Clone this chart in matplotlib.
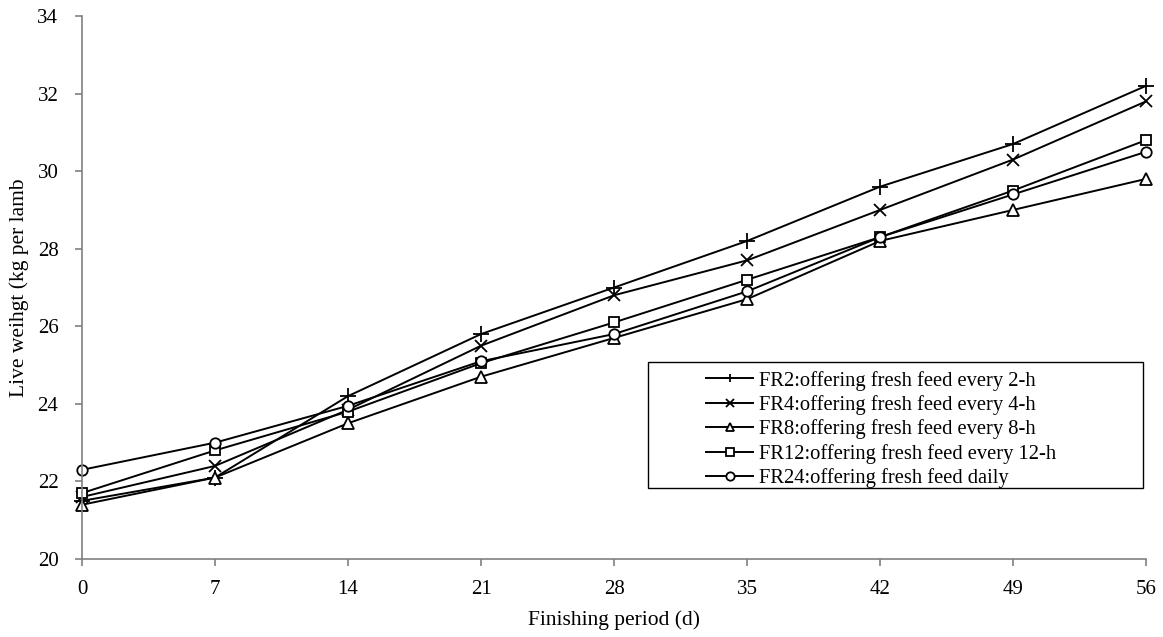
import matplotlib
matplotlib.use("Agg")
import matplotlib.pyplot as plt
from matplotlib.patches import Rectangle

plt.rcParams['font.family'] = ['Liberation Serif', 'DejaVu Serif']

days = [0, 7, 14, 21, 28, 35, 42, 49, 56]
fr2 = [21.5, 22.1, 24.2, 25.8, 27.0, 28.2, 29.6, 30.7, 32.2]
fr4 = [21.6, 22.4, 23.85, 25.5, 26.8, 27.7, 29.0, 30.3, 31.8]
fr8 = [21.4, 22.1, 23.5, 24.7, 25.7, 26.7, 28.2, 29.0, 29.8]
fr12 = [21.7, 22.8, 23.8, 25.05, 26.1, 27.2, 28.3, 29.5, 30.8]
fr24 = [22.3, 23.0, 23.95, 25.1, 25.8, 26.9, 28.3, 29.4, 30.5]

labels = ["FR2:offering fresh feed every 2-h",
          "FR4:offering fresh feed every 4-h",
          "FR8:offering fresh feed every 8-h",
          "FR12:offering fresh feed every 12-h",
          "FR24:offering fresh feed daily"]
markers = ['+', 'x', '^', 's', 'o']
series = [fr2, fr4, fr8, fr12, fr24]
msizes = [11, 9, 8, 7.5, 7.5]

fig = plt.figure(figsize=(11.63, 6.37), dpi=100)
ax = fig.add_axes([0.0705, 0.1224, 0.915, 0.8525])

for s, m, lab, ms in zip(series, markers, labels, msizes):
    ax.plot(days, s, color='black', lw=1.4, marker=m, ms=ms,
            mfc='white', mec='black', mew=1.3, label=lab, clip_on=False)

ax.set_xlim(0, 56)
ax.set_ylim(20, 34)
ax.set_xticks(days)
ax.set_yticks([20, 22, 24, 26, 28, 30, 32, 34])
for sp in ['top', 'right']:
    ax.spines[sp].set_visible(False)
for sp in ['left', 'bottom']:
    ax.spines[sp].set_color('#808080')
    ax.spines[sp].set_linewidth(1.2)
ax.tick_params(axis='both', direction='out', length=5, width=1.2, color='#808080',
               labelsize=15, labelcolor='black')
ax.tick_params(axis='x', pad=10)
ax.tick_params(axis='y', pad=12)
ax.set_xlabel("Finishing period (d)", fontsize=15.5, labelpad=8)
ax.set_ylabel("Live weihgt (kg per lamb", fontsize=15.5, labelpad=6)

ax.add_patch(Rectangle((0.532, 0.131), 0.465, 0.232, transform=ax.transAxes,
                       fill=True, facecolor='white', edgecolor='black', lw=1.0, zorder=3))
leg = ax.legend(loc='upper left', bbox_to_anchor=(0.5865, 0.347), frameon=False,
                fontsize=14.8, handlelength=2.3, handletextpad=0.25, labelspacing=0.22,
                borderaxespad=0, borderpad=0)
leg.set_zorder(4)
for h in leg.legend_handles:
    h.set_markersize(6)

fig.savefig("out.png", dpi=100)
